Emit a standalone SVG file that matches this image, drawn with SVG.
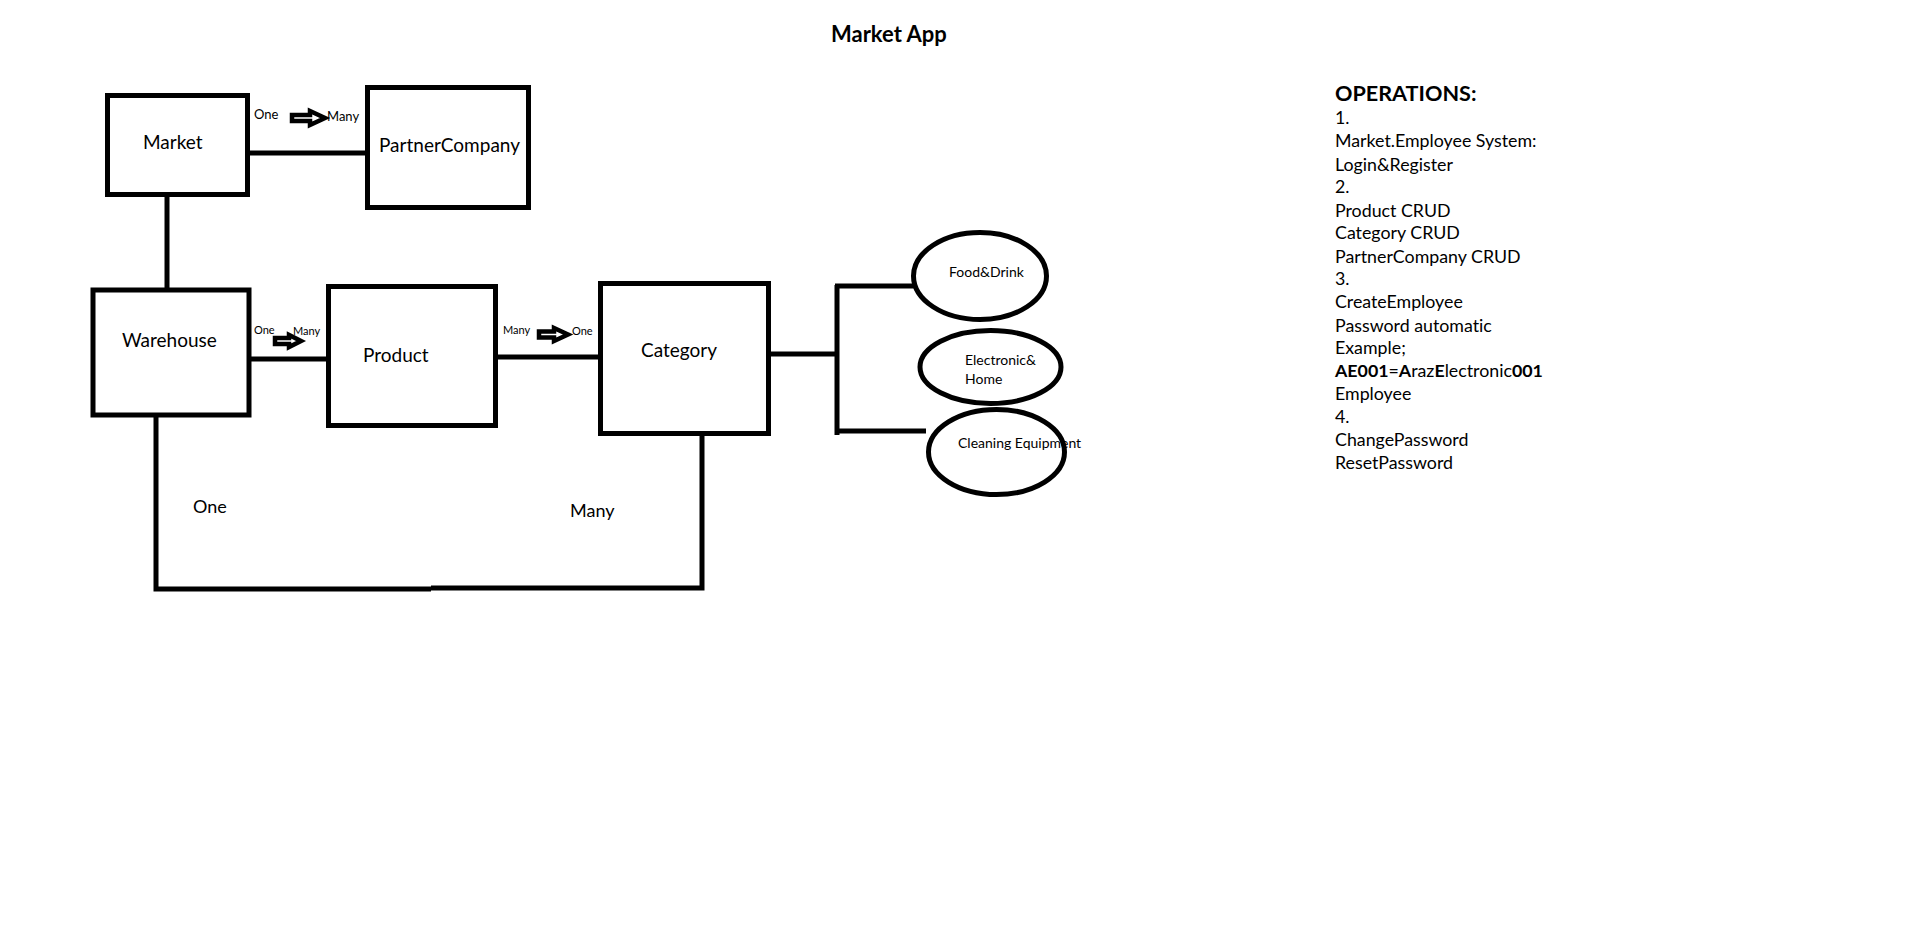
<svg xmlns="http://www.w3.org/2000/svg" width="1914" height="934" viewBox="0 0 1914 934">
<style>
  text { font-family: Lato, "Open Sans", "Liberation Sans", sans-serif; fill: #000; font-variant-ligatures: none; }
  .box { fill: #fff; stroke: #000; stroke-width: 5; }
  .oval { fill: #fff; stroke: #000; stroke-width: 5; }
  .ln { fill: none; stroke: #000; stroke-width: 5; }
  .fat { fill: #fff; stroke: #000; stroke-width: 4.5; stroke-linejoin: miter; }
  .lbl { font-size: 19px; }
  .rel { font-size: 13px; }
  .rels { font-size: 11px; }
  .ov { font-size: 14px; }
  .ops { font-size: 17.8px; }
</style>
<rect width="1914" height="934" fill="#fff"/>
<g id="title"><text x="831" y="42" font-size="22" font-weight="bold">Market App</text></g>

<g id="connectors">
  <line class="ln" x1="248" y1="153" x2="367" y2="153"/>
  <line class="ln" x1="167" y1="195" x2="167" y2="290"/>
  <line class="ln" x1="249" y1="359" x2="328" y2="359"/>
  <line class="ln" x1="496" y1="357" x2="601" y2="357"/>
  <line class="ln" x1="769" y1="354" x2="837" y2="354"/>
  <line class="ln" x1="837" y1="285" x2="837" y2="435"/>
  <line class="ln" x1="835" y1="286" x2="914" y2="286"/>
  <line class="ln" x1="835" y1="431" x2="926" y2="431"/>
  <polyline class="ln" points="156,415 156,589 431,589"/>
  <polyline class="ln" points="431,588 702,588 702,434"/>
  <path class="fat" d="M292,115 H310 V111 L325,118 L310,125 V121 H292 Z"/>
  <path class="fat" d="M275,338 H289 V335 L301,341 L289,347 V344 H275 Z"/>
  <path class="fat" d="M539,331.5 H554 V328 L568,334.5 L554,341 V337.5 H539 Z"/>
  <text class="rel" x="254" y="119">One</text>
  <text class="rel" x="327" y="121">Many</text>
  <text class="rels" x="254" y="334">One</text>
  <text class="rels" x="293" y="335">Many</text>
  <text class="rels" x="503" y="334">Many</text>
  <text class="rels" x="572" y="335">One</text>
  <text x="193" y="513" font-size="18">One</text>
  <text x="570" y="517" font-size="18">Many</text>
</g>

<g id="market"><rect class="box" x="107.5" y="95.5" width="140" height="99"/><text class="lbl" x="143" y="149">Market</text></g>
<g id="partner-company"><rect class="box" x="367.5" y="87.5" width="161" height="120"/><text class="lbl" x="379" y="152">PartnerCompany</text></g>
<g id="warehouse"><rect class="box" x="93" y="290" width="156" height="125"/><text class="lbl" x="122" y="347">Warehouse</text></g>
<g id="product"><rect class="box" x="328.5" y="286.5" width="167" height="139"/><text class="lbl" x="363" y="362">Product</text></g>
<g id="category"><rect class="box" x="600.5" y="283.5" width="168" height="150"/><text class="lbl" x="641" y="357">Category</text></g>

<g id="food-drink"><ellipse class="oval" cx="980" cy="276" rx="66.5" ry="43.5"/><text class="ov" x="949" y="277">Food&amp;Drink</text></g>
<g id="electronic-home"><ellipse class="oval" cx="990.5" cy="367" rx="70.5" ry="36.5"/><text class="ov" x="965" y="365">Electronic&amp;</text><text class="ov" x="965" y="384">Home</text></g>
<g id="cleaning-equipment"><ellipse class="oval" cx="996.5" cy="452" rx="68" ry="42.5"/><text class="ov" x="958" y="448">Cleaning Equipment</text></g>

<g id="operations">
  <text x="1335" y="101" font-size="21.6" font-weight="bold">OPERATIONS:</text>
  <text class="ops" x="1335" y="124.3">1.</text>
  <text class="ops" x="1335" y="147.3">Market.Employee System:</text>
  <text class="ops" x="1335" y="170.5">Login&amp;Register</text>
  <text class="ops" x="1335" y="193.4">2.</text>
  <text class="ops" x="1335" y="216.5">Product CRUD</text>
  <text class="ops" x="1335" y="239.4">Category CRUD</text>
  <text class="ops" x="1335" y="262.5">PartnerCompany CRUD</text>
  <text class="ops" x="1335" y="285.2">3.</text>
  <text class="ops" x="1335" y="308.3">CreateEmployee</text>
  <text class="ops" x="1335" y="331.5">Password automatic</text>
  <text class="ops" x="1335" y="354.3">Example;</text>
  <text class="ops" x="1335" y="377.3"><tspan font-weight="bold">AE001</tspan>=<tspan font-weight="bold">A</tspan>raz<tspan font-weight="bold">E</tspan>lectronic<tspan font-weight="bold">001</tspan></text>
  <text class="ops" x="1335" y="400.2">Employee</text>
  <text class="ops" x="1335" y="423.3">4.</text>
  <text class="ops" x="1335" y="446.2">ChangePassword</text>
  <text class="ops" x="1335" y="469.3">ResetPassword</text>
</g>
</svg>
